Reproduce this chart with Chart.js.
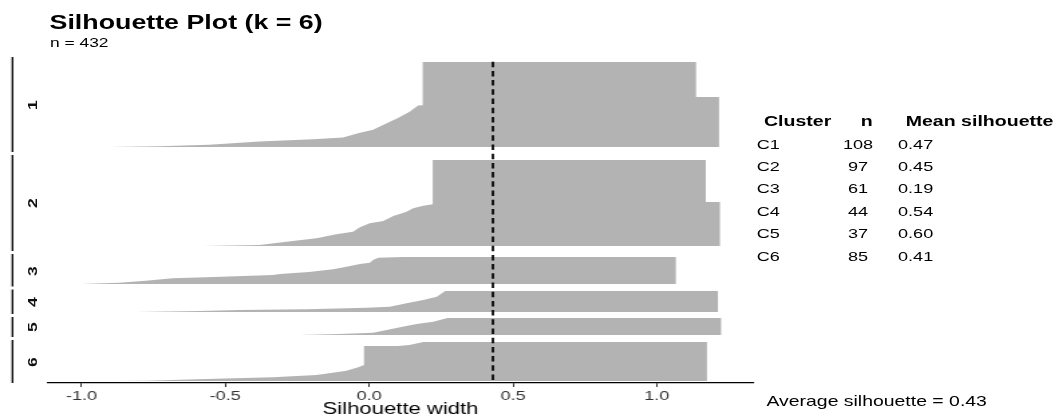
<!DOCTYPE html>
<html><head><meta charset="utf-8">
<script src="https://cdn.jsdelivr.net/npm/chart.js@4.4.1/dist/chart.umd.min.js"></script>
<style>
html,body{margin:0;padding:0;background:#fff;overflow:hidden;width:1054px;height:419px;}
#stage{position:absolute;left:0;top:0;width:787px;height:419px;transform:scaleX(1.339263);transform-origin:0 0;font-family:'Liberation Sans',Arial,sans-serif;color:#000;}
#stage canvas{position:absolute;left:0;top:0;}
#overlay{position:absolute;left:0;top:0;width:1054px;height:419px;font-family:'Liberation Sans',Arial,sans-serif;color:#000;}
.t{position:absolute;white-space:nowrap;line-height:1;}
.b{font-weight:bold;}
.ylab{position:absolute;white-space:nowrap;line-height:1;font-size:13.5px;font-weight:bold;color:#111;transform:translate(-50%,-50%) rotate(-90deg) scaleX(1.3);}
</style></head><body>
<div id="stage">
<canvas id="c" width="787" height="419"></canvas>
<div class="t b" style="left:37px;top:12.4px;font-size:20px;">Silhouette Plot (k = 6)</div>
<div class="t" style="left:37.3px;top:35.5px;font-size:13px;">n = 432</div>
<div id="tbl"></div>
<div class="t" id="avg" style="left:572.3px;top:394.4px;font-size:14.5px;"></div>
</div>
<div id="overlay"></div>
<script>
// ---------- data ----------
const clusterLabels = ['1','2','3','4','5','6'];
const clusterNames  = ['C1','C2','C3','C4','C5','C6'];
const clusterSizes  = [108, 97, 61, 44, 37, 85];
const clusterMeans  = ['0.47','0.45','0.19','0.54','0.60','0.41'];
const avgSilhouette = 0.43;
const xTickValues = [-1, -0.5, 0, 0.5, 1];
const xTickLabels = ['-1.0', '-0.5', '0.0', '0.5', '1.0'];

// left edge (rank within cluster -> silhouette width) and right edge
const c1Rank = [0, 55, 55.3, 63, 72, 76, 84, 86, 90, 96, 98, 101, 105, 107, 108];
const c1Left = [0.186, 0.186, 0.170, 0.142, 0.095, 0.072, 0.026, 0.014, -0.032, -0.091, -0.195, -0.381, -0.556, -0.730, -0.904];
const c1RightRank = [108, 44.5, 44.5, 0];
const c1Right = [1.216, 1.216, 1.136, 1.136];

const c2Rank = [0, 50, 51.5, 54.5, 58.3, 63.2, 68.8, 71.4, 75.9, 80.9, 83.8, 88.3, 91.4, 95.9, 97];
const c2Left = [0.221, 0.221, 0.188, 0.153, 0.130, 0.084, 0.049, 0.002, -0.032, -0.056, -0.114, -0.183, -0.265, -0.381, -0.578];
const c2RightRank = [97, 47.4, 47.4, 0];
const c2Right = [1.219, 1.219, 1.170, 1.170];

const c3Rank = [0, 1.5, 6.8, 12.9, 15.8, 21.9, 27.8, 33.9, 38.4, 40.7, 45.9, 48.1, 53.5, 58.1, 61];
const c3Left = [0.118, 0.031, 0.014, 0.002, -0.032, -0.079, -0.125, -0.210, -0.310, -0.335, -0.567, -0.683, -0.776, -0.869, -1.003];
const c3RightRank = [61, 0];
const c3Right = [1.066, 1.066];

const c4Rank = [0, 11.9, 18.9, 25.8, 32.9, 35, 38.3, 39.8, 41.9, 44];
const c4Left = [0.264, 0.235, 0.188, 0.130, 0.072, -0.009, -0.218, -0.451, -0.590, -0.811];
const c4RightRank = [44, 0];
const c4Right = [1.212, 1.212];

const c5Rank = [0, 8.1, 13.1, 20.2, 26.1, 32, 34.8, 37];
const c5Left = [0.272, 0.223, 0.165, 0.107, 0.061, 0.014, -0.102, -0.241];
const c5RightRank = [37, 0];
const c5Right = [1.223, 1.223];

const c6Rank = [0, 6.5, 8.7, 8.7, 50.1, 55.1, 62.5, 64.7, 71.9, 76.9, 80.6, 84.3, 85];
const c6Left = [0.188, 0.140, 0.100, -0.018, -0.018, -0.038, -0.079, -0.102, -0.183, -0.335, -0.567, -0.776, -0.892];
const c6RightRank = [85, 0];
const c6Right = [1.174, 1.174];

// ---------- layout (pixels) ----------
const FONT = "'Liberation Sans', Arial, sans-serif";
const SX = 1.339263;
const PLOT_TOP = 57, PLOT_BOTTOM = 383;
const panelEdges = [57, 153.5, 252.5, 288, 315.5, 338.5, 383];
const bandTop    = [62, 160, 257, 291, 318, 342];
const bandBottom = [147, 246, 284, 312, 335, 381];
const Y_AXIS_W = 48 / SX;
const RIGHT_PAD = 787 - 753 / SX;
const X_MIN = -1.116, X_MAX = 1.334;

const edges = [
  [c1Rank, c1Left, c1RightRank, c1Right],
  [c2Rank, c2Left, c2RightRank, c2Right],
  [c3Rank, c3Left, c3RightRank, c3Right],
  [c4Rank, c4Left, c4RightRank, c4Right],
  [c5Rank, c5Left, c5RightRank, c5Right],
  [c6Rank, c6Left, c6RightRank, c6Right]
];

const scales = {
  x: {
    type: 'linear', position: 'bottom', min: X_MIN, max: X_MAX,
    afterBuildTicks: s => { s.ticks = xTickValues.map(v => ({value: v})); },
    afterFit: s => { s.height = 419 - PLOT_BOTTOM; },
    grid: {display: true, drawOnChartArea: false, drawTicks: true, tickLength: 4, tickColor: '#333', tickWidth: 1},
    border: {display: true, color: '#000', width: 1.2},
    ticks: {padding: 1, color: '#333', font: {family: FONT, size: 13.5}, maxRotation: 0, autoSkip: false,
      callback: v => xTickLabels[xTickValues.indexOf(v)]},
    title: {display: true, text: 'Silhouette width', color: '#000', font: {family: FONT, size: 16.5}, padding: {top: 0, bottom: 0}}
  },
  yAll: {type: 'linear', position: 'right', display: false, reverse: true, min: 0, max: PLOT_BOTTOM - PLOT_TOP}
};
const datasets = [];
clusterLabels.forEach((lab, i) => {
  const n = clusterSizes[i];
  const u = n / (bandBottom[i] - bandTop[i]);
  const id = 'y' + (i + 1);
  scales[id] = {
    type: 'linear', position: 'left', stack: 'facets', stackWeight: panelEdges[i + 1] - panelEdges[i], weight: 10 - i,
    reverse: true,
    min: -(bandTop[i] - panelEdges[i]) * u,
    max: n + (panelEdges[i + 1] - bandBottom[i]) * u,
    grid: {display: false}, border: {display: false}, ticks: {display: false},
    title: {display: false},
    afterFit: s => { s.width = Y_AXIS_W; }
  };
  const [lr, lv, rr, rv] = edges[i];
  const pts = lr.map((r, k) => ({x: lv[k], y: r})).concat(rr.map((r, k) => ({x: rv[k], y: r})));
  datasets.push({
    type: 'scatter', data: pts, yAxisID: id, xAxisID: 'x', showLine: true, fill: 'shape',
    backgroundColor: '#B3B3B3', borderColor: 'rgba(0,0,0,0)', borderWidth: 0, pointRadius: 0, tension: 0, order: 2
  });
});
datasets.push({
  type: 'scatter', yAxisID: 'yAll', xAxisID: 'x', showLine: true, fill: false,
  data: [{x: avgSilhouette, y: bandTop[0] - PLOT_TOP - 0.3}, {x: avgSilhouette, y: PLOT_BOTTOM - PLOT_TOP}],
  borderColor: '#000', borderWidth: 1.75, borderDash: [5.5, 3.7], pointRadius: 0, order: 0
});

const facetLines = {
  id: 'facetLines',
  afterDraw(chart) {
    const ctx = chart.ctx;
    ctx.save();
    ctx.strokeStyle = '#000';
    ctx.lineWidth = 1.3;
    clusterLabels.forEach((lab, i) => {
      const s = chart.scales['y' + (i + 1)];
      const t = s.top + (i > 0 ? 1.5 : 0);
      const b = s.bottom - (i < clusterLabels.length - 1 ? 1.5 : 0);
      ctx.beginPath(); ctx.moveTo(12.5 / SX, t); ctx.lineTo(12.5 / SX, b); ctx.stroke();
    });
    ctx.restore();
  }
};

const chart = new Chart(document.getElementById('c'), {
  type: 'scatter',
  data: {datasets},
  options: {
    responsive: false, animation: false, events: [],
    layout: {padding: {top: PLOT_TOP, left: 0, right: RIGHT_PAD, bottom: 0}},
    plugins: {legend: {display: false}, tooltip: {enabled: false}},
    scales
  },
  plugins: [facetLines]
});

// facet labels (rotated), centred on each cluster's rows
const overlay = document.getElementById('overlay');
clusterLabels.forEach((lab, i) => {
  const s = chart.scales['y' + (i + 1)];
  const d = document.createElement('div');
  d.className = 'ylab';
  d.textContent = lab;
  d.style.left = '33px';
  d.style.top = s.getPixelForValue(clusterSizes[i] / 2) + 'px';
  overlay.appendChild(d);
});

// ---------- table text ----------
const tbl = document.getElementById('tbl');
function addText(txt, left, baseline, size, bold, center) {
  const d = document.createElement('div');
  d.className = 't' + (bold ? ' b' : '');
  d.textContent = txt;
  d.style.fontSize = size + 'px';
  d.style.top = (baseline - 0.8465 * size) + 'px';
  if (center) { d.style.left = (left - 30) + 'px'; d.style.width = '60px'; d.style.textAlign = 'center'; }
  else d.style.left = left + 'px';
  tbl.appendChild(d);
}
addText('Cluster', 764 / SX, 126.7, 14.6, true);
addText('n', 866.7 / SX, 126.7, 14.6, true, true);
addText('Mean silhouette', 905.7 / SX, 126.7, 14.6, true);
clusterNames.forEach((nm, i) => {
  const base = 149 + i * 22.45;
  addText(nm, 756.7 / SX, base, 13.5, false);
  addText(String(clusterSizes[i]), 858 / SX, base, 13.5, false, true);
  addText(clusterMeans[i], 898 / SX, base, 13.5, false);
});
document.getElementById('avg').textContent = 'Average silhouette = ' + avgSilhouette.toFixed(2);
</script>
</body></html>
